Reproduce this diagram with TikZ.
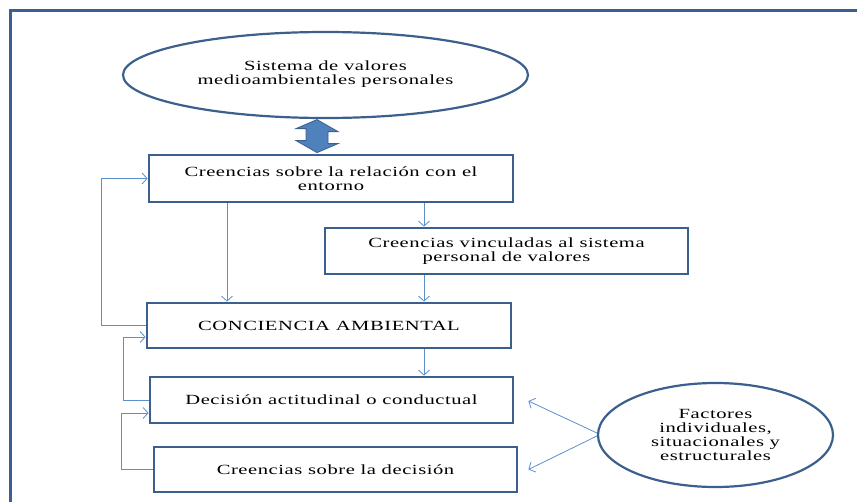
\documentclass[tikz,border=0pt]{standalone}
\usepackage{fontspec}
\setmainfont{Liberation Serif}[FakeStretch=1.47,LetterSpace=4]
\usetikzlibrary{arrows.meta,shapes.geometric,calc}
\definecolor{frameblue}{RGB}{60,96,142}
\definecolor{fillblue}{RGB}{79,129,189}
\definecolor{lineblue}{RGB}{91,143,208}
\begin{document}
\begin{tikzpicture}[x=1pt,y=-1pt,
  box/.style={draw=frameblue,line width=2.8pt,rectangle,align=center,inner sep=0pt,
    font=\fontsize{14}{13.5}\selectfont,minimum width=#1},
  box/.default=363pt,
  oval/.style={draw=frameblue,line width=2.2pt,ellipse,align=center,inner sep=0pt,
    font=\fontsize{14}{14}\selectfont},
  conn/.style={draw=lineblue,line width=0.8pt,-{Straight Barb[length=5pt,width=11pt]}},
  plain/.style={draw=lineblue,line width=0.8pt}]
\useasboundingbox (0,0) rectangle (857,501);
% outer frame
\draw[frameblue,line width=3pt] (10.5,10.5) rectangle (880,530);
% top ellipse
\node[oval,minimum width=405pt,minimum height=86pt] (e1) at (325.5,75)
  {\raisebox{-3pt}{\setlength\tabcolsep{0pt}\begin{tabular}{c}Sistema de valores\\medioambientales personales\end{tabular}}};
% boxes
\node[box=364pt,minimum height=47pt] (b1) at (331,178.5)
  {Creencias sobre la relación con el\\entorno};
\node[box=363pt,minimum height=46pt] (b2) at (506.5,251)
  {Creencias vinculadas al sistema\\personal de valores};
\node[box=364pt,minimum height=45pt] (b3) at (329,325.5)
  {CONCIENCIA AMBIENTAL};
\node[box=363pt,minimum height=46pt] (b4) at (331.5,400)
  {Decisión actitudinal o conductual};
\node[box=363pt,minimum height=45pt] (b5) at (335.5,469.5)
  {Creencias sobre la decisión};
% right ellipse
\node[oval,minimum width=235pt,minimum height=104pt] (e2) at (715.5,435)
  {Factores\\individuales,\\situacionales y\\estructurales};
% double block arrow between e1 and b1
\coordinate (da) at (317,0);
\filldraw[fill=fillblue,draw=frameblue,line width=0.8pt]
  ($(e1.south -| da)+(0,0.5)$) -- ++(21,12) -- ++(-10,0) -- ++(0,12) -- ++(10,0)
  -- ($(b1.north -| da)+(0,-1)$) -- ++(-21,-12) -- ++(10,0) -- ++(0,-12) -- ++(-10,0) -- cycle;
% vertical connectors
\coordinate (cx1) at (227,0);
\coordinate (cx2) at (424,0);
\draw[conn] (b1.south -| cx1) -- (b3.north -| cx1);
\draw[conn] (b1.south -| cx2) -- (b2.north -| cx2);
\draw[conn] (b2.south -| cx2) -- (b3.north -| cx2);
\draw[conn] (b3.south -| cx2) -- (b4.north -| cx2);
% feedback loops
\draw[conn] (b3.west) -- ++(-44,0) |- (b1.west);
\draw[conn] (b4.west) -- ++(-25,0) |- ([yshift=-11.5pt]b3.west);
\draw[conn] (b5.west) -- ++(-31,0) |- ([yshift=-13pt]b4.west);
% factors arrows
\draw[conn] ([yshift=2pt]e2.west) -- ([xshift=14pt,yshift=-1pt]b4.east);
\draw[conn] ([yshift=-1pt]e2.west) -- ([xshift=10pt]b5.east);
\end{tikzpicture}
\end{document}
